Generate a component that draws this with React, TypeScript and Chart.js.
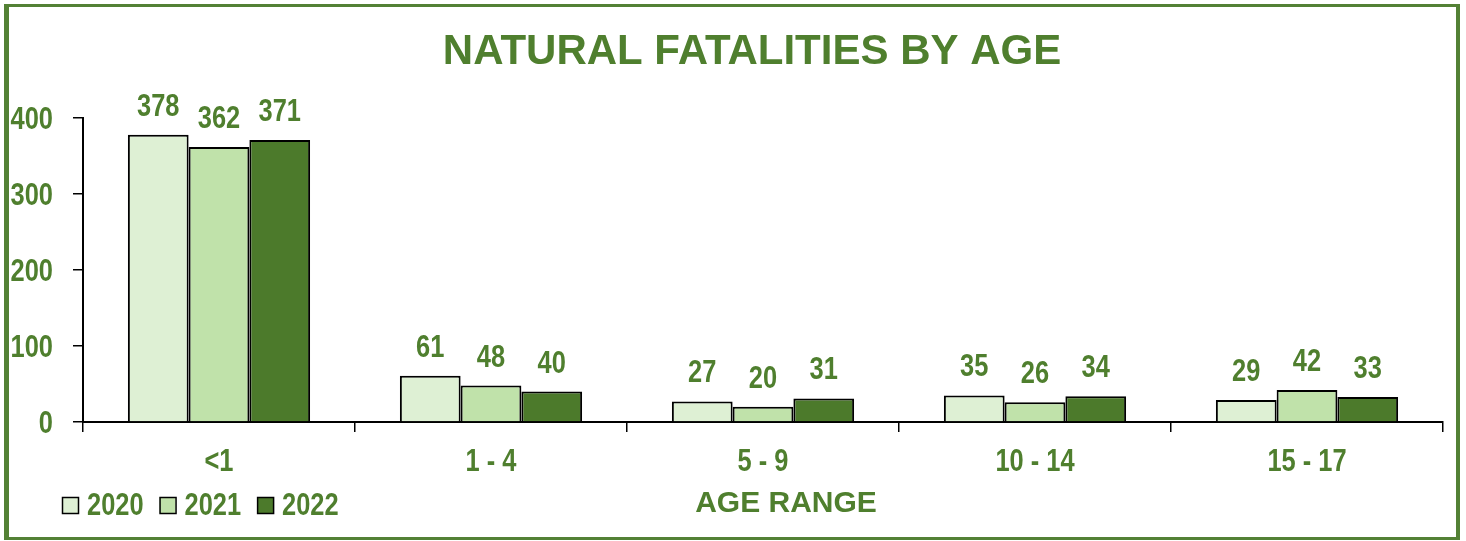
import React, { useEffect, useRef } from "react";
import { Chart, registerables } from "chart.js";

Chart.register(...registerables);

const categories = ["<1", "1 - 4", "5 - 9", "10 - 14", "15 - 17"];
const seriesNames = ["2020", "2021", "2022"];
const values2020 = [378, 61, 27, 35, 29];
const values2021 = [362, 48, 20, 26, 42];
const values2022 = [371, 40, 31, 34, 33];
const yTicks = [0, 100, 200, 300, 400];

const GREEN = "#4f7f2e";
const WIDE = "'Liberation Sans', Arial, sans-serif";
const NARROW_FONT = `bold 31px ${WIDE}`;
const SQUEEZE = 0.82;
const colors = ["#def0d4", "#c0e2aa", "#4c7a2b"];

function narrowText(ctx: any, text: string, x: number, y: number, align: string) {
  ctx.save();
  ctx.translate(x, y);
  ctx.scale(SQUEEZE, 1);
  ctx.textAlign = align;
  ctx.textBaseline = "alphabetic";
  ctx.font = NARROW_FONT;
  ctx.fillText(text, 0, 0);
  ctx.restore();
}

function narrowWidth(ctx: any, text: string) {
  ctx.save();
  ctx.font = NARROW_FONT;
  const w = ctx.measureText(text).width * SQUEEZE;
  ctx.restore();
  return w;
}

const overlayPlugin = {
  id: "overlay",
  afterDatasetsDraw(chart: any) {
    const ctx = chart.ctx;
    const area = chart.chartArea;
    const xs = chart.scales.x;
    const ys = chart.scales.y;
    ctx.save();
    ctx.fillStyle = GREEN;
    // data labels
    chart.data.datasets.forEach((ds: any, i: number) => {
      const meta = chart.getDatasetMeta(i);
      meta.data.forEach((bar: any, j: number) => {
        narrowText(ctx, String(ds.data[j]), bar.x, bar.y - 19, "center");
      });
    });
    // x tick labels
    chart.data.labels.forEach((lab: string, i: number) => {
      narrowText(ctx, lab, xs.getPixelForValue(i), area.bottom + 49, "center");
    });
    // y tick labels
    yTicks.forEach((v) => {
      narrowText(ctx, String(v), area.left - 30, ys.getPixelForValue(v) + 11, "right");
    });
    // title
    ctx.textAlign = "center";
    ctx.textBaseline = "alphabetic";
    ctx.font = `bold 42px ${WIDE}`;
    ctx.fillText("NATURAL FATALITIES BY AGE", (area.left + area.right) / 2 - 11, 64);
    // axis title
    ctx.font = `bold 30px ${WIDE}`;
    ctx.fillText("AGE RANGE", (area.left + area.right) / 2 + 23, 512);
    // legend
    let x = 62;
    chart.data.datasets.forEach((ds: any) => {
      ctx.fillStyle = ds.backgroundColor;
      ctx.fillRect(x, 497, 16, 16);
      ctx.strokeStyle = "#000";
      ctx.lineWidth = 1.5;
      ctx.strokeRect(x + 0.5, 497.5, 16, 16);
      ctx.fillStyle = GREEN;
      narrowText(ctx, ds.label, x + 25, 515, "left");
      x += 25 + narrowWidth(ctx, ds.label) + 16;
    });
    ctx.restore();
  },
};

export default function App() {
  const ref = useRef<HTMLCanvasElement>(null);
  useEffect(() => {
    if (!ref.current) return;
    const data = [values2020, values2021, values2022];
    const chart = new Chart(ref.current, {
      type: "bar",
      data: {
        labels: categories,
        datasets: seriesNames.map((n, i) => ({
          label: n,
          data: data[i],
          backgroundColor: colors[i],
          borderColor: "#000",
          borderWidth: 2,
          categoryPercentage: 0.67,
          barPercentage: 1,
        })),
      },
      options: {
        responsive: false,
        animation: false,
        devicePixelRatio: 1,
        layout: { padding: { top: 118, left: 0, right: 23, bottom: 0 } },
        plugins: {
          legend: { display: false },
          title: { display: false },
          tooltip: { enabled: false },
        },
        scales: {
          x: {
            afterFit: (s: any) => { s.height = 119; },
            grid: { offset: true, drawOnChartArea: false, tickLength: 10, color: "#000", lineWidth: 1.5 },
            border: { display: true, color: "#000", width: 2 },
            ticks: { display: false },
          },
          y: {
            min: 0,
            max: 400,
            afterFit: (s: any) => { s.width = 83; },
            afterBuildTicks: (s: any) => { s.ticks = yTicks.map((v) => ({ value: v })); },
            grid: { drawOnChartArea: false, tickLength: 10, color: "#000", lineWidth: 1.5 },
            border: { display: true, color: "#000", width: 2 },
            ticks: { display: false },
          },
        },
      },
      plugins: [overlayPlugin],
    });
    return () => chart.destroy();
  }, []);
  return (
    <div style={{ position: "absolute", left: 0, top: 0, width: 1466, height: 541, background: "#fff" }}>
      <canvas ref={ref} width={1466} height={541} style={{ position: "absolute", left: 0, top: 0 }} />
      <div
        style={{
          position: "absolute",
          left: 4,
          top: 4,
          width: 1456,
          height: 536,
          boxSizing: "border-box",
          borderStyle: "solid",
          borderColor: "#538135",
          borderWidth: "3px 4px 3px 5px",
          pointerEvents: "none",
        }}
      />
    </div>
  );
}
